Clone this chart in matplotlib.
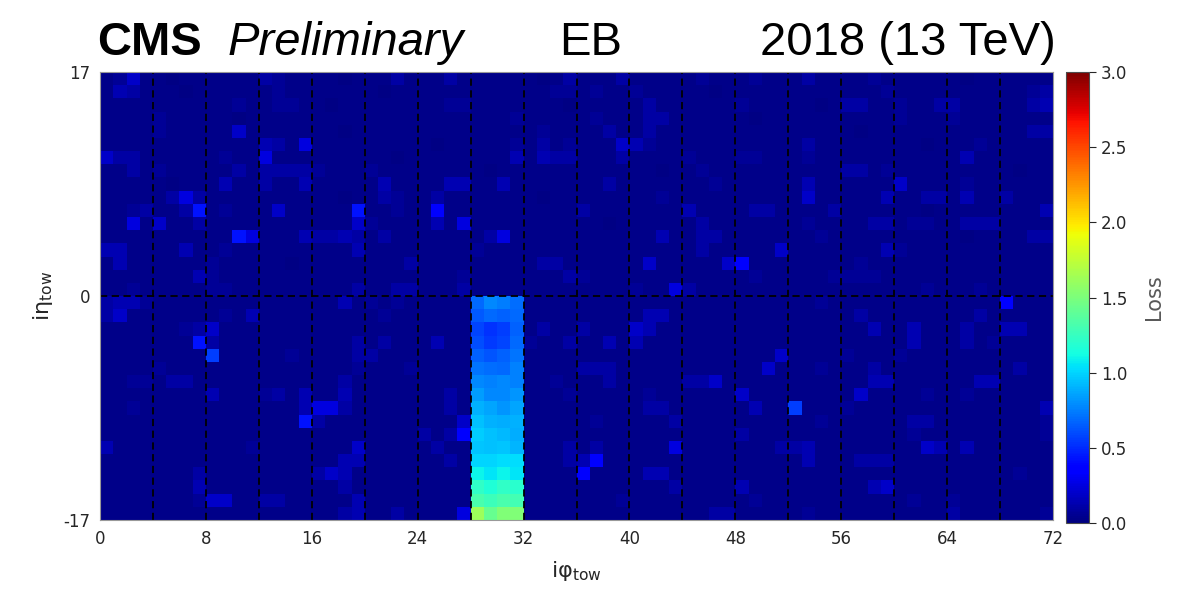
import numpy as np
import matplotlib.pyplot as plt

plt.rcParams["axes.unicode_minus"] = False

# ===============================
# Data
# ===============================
# loss level per trigger tower, one string per ieta row, top (ieta 16) to bottom (ieta -17),
# written in groups of 4 iphi towers; '#' marks the hot block filled from hot_loss below
loss_rows = [
    "1251 1011 1111 3211 1101 1131 1131 1111 1013 1113 1111 1211 1211 1311 1121 1111 1011 1111",
    "1431 1101 1111 1211 1111 1011 1111 1111 1122 1211 2111 1101 1111 1111 1112 1111 1111 1123",
    "1111 1111 1121 1221 1011 1111 1122 1111 1110 1111 1311 1111 2111 1101 3311 2113 3111 1134",
    "1111 2111 1101 1111 1111 1111 1111 1112 1111 1211 1331 1111 1011 1111 1111 2111 2111 1111",
    "1111 2111 1151 1111 1101 1111 1111 1111 1211 1131 1311 1111 1111 1111 1011 1111 1111 1133",
    "1111 1111 1111 4316 1111 1111 1011 1112 1312 1115 4211 1111 1111 1311 1111 1101 1121 1111",
    "5331 1111 1211 6111 1111 1101 1111 1114 1433 1113 1111 2111 2211 1211 1111 1111 1411 1111",
    "1131 2111 1131 3333 2111 2111 1111 1011 1111 1111 1101 1211 1111 1111 3312 1111 1111 1011",
    "1111 1011 1411 3114 1111 1411 1144 1141 1111 1131 1111 1121 1111 1411 1111 5111 1211 1111",
    "1111 1363 1111 1111 1101 1321 1311 1111 1011 1111 1121 1111 1111 1511 1114 1133 1411 3111",
    "1123 1138 1211 1511 1118 1121 1711 1111 1111 3111 1111 4111 1331 1113 1111 1101 1111 1114",
    "1161 5113 1111 1111 1115 2111 1416 1111 1111 1101 1111 1311 1111 1211 1133 1221 1333 1111",
    "1111 1111 1186 1114 3343 1311 1111 1361 1111 1111 1141 1331 1111 1121 1111 1111 1011 1133",
    "4411 1141 1211 1111 1114 1111 1111 2111 1111 1111 1111 1311 1115 1111 1114 2111 1111 1111",
    "1411 1111 2111 1101 1111 1113 1111 1111 1331 1111 1511 1115 7111 1111 1211 1111 1111 1111",
    "1111 1114 2111 1111 1111 1111 1112 1111 1113 2111 1111 1111 1211 1112 2221 1111 1111 1111",
    "1121 1111 2211 1111 1113 1133 1113 1111 1111 1111 2116 3111 1111 1111 1111 1121 1121 1111",
    "3442 1111 1111 1111 1141 2121 1111 #### 1111 1111 1111 1111 1111 1121 1111 1111 1111 7111",
    "3511 1111 1214 1111 1111 1211 1111 #### 1111 1111 1441 1111 1111 1111 1311 1111 1131 1111",
    "1111 1123 5111 1111 1111 1111 1111 #### 1311 3111 5411 1111 1111 1111 1141 1411 1311 4411",
    "1111 1118 3111 1111 1113 1311 1411 #### 2113 1141 4111 1111 1111 1111 1111 1411 1312 1111",
    "1111 1111 9111 1121 1113 3111 1111 #### 1111 1111 1111 1111 1115 1111 2111 2111 1111 1111",
    "1111 2111 1111 1111 1112 1112 1111 #### 1111 3331 1111 1111 1151 1121 1131 1111 1111 1311",
    "1122 1331 1111 1111 1131 1111 1111 #### 1121 1131 1111 3351 1111 1111 1144 1111 1144 1111",
    "1111 1111 4111 2314 1141 1111 1131 #### 1112 1111 1211 1111 5111 1111 1511 1121 1211 1111",
    "1121 1111 1111 1114 6631 1111 1131 #### 1111 1111 1331 1111 1411 9111 2111 1111 1111 1114",
    "1111 1111 1111 1118 3111 1111 1115 #### 1111 1211 1113 1111 1111 1121 1111 1331 1111 1112",
    "1111 1111 1111 1111 1111 1111 3137 #### 1111 1111 1111 1111 3111 1111 1111 1211 1111 1112",
    "4111 1111 1112 1111 1115 1111 1311 #### 1113 1311 1116 1111 1113 3411 1111 1154 1411 1111",
    "1111 1111 1111 1111 1144 1111 1131 #### 1113 4711 1111 1111 1111 1411 1333 1111 1111 1111",
    "1111 1113 1111 1111 3541 1111 1111 #### 1111 7111 1441 1111 1111 1111 1111 1111 1111 1211",
    "1111 1114 1111 1111 1131 1111 1111 #### 1111 1111 1113 1111 4111 1111 1145 1111 1111 1111",
    "1111 1112 5511 3311 1114 1111 1111 #### 1111 1112 1111 1111 1211 1111 1111 1211 2111 1111",
    "1111 1111 1111 1111 1134 1131 1116 #### 1111 1111 1111 1133 1111 1211 1111 1111 3111 1112",
]

# loss value for each level character
level_loss = {
    "0": 0.015, "1": 0.035, "2": 0.065, "3": 0.10, "4": 0.14,
    "5": 0.19, "6": 0.25, "7": 0.33, "8": 0.43, "9": 0.56,
}

# hot block: iphi 28-31, ieta -1 (top) down to -17
hot_iphi = [28, 29, 30, 31]
hot_loss = [
    [0.68, 0.78, 0.74, 0.70],
    [0.64, 0.68, 0.66, 0.68],
    [0.58, 0.52, 0.56, 0.66],
    [0.60, 0.55, 0.58, 0.68],
    [0.66, 0.63, 0.66, 0.72],
    [0.72, 0.70, 0.68, 0.76],
    [0.78, 0.75, 0.78, 0.76],
    [0.84, 0.78, 0.78, 0.82],
    [0.90, 0.86, 0.82, 0.86],
    [0.94, 0.90, 0.88, 0.90],
    [0.98, 0.94, 0.92, 0.88],
    [0.96, 0.94, 0.96, 0.91],
    [1.00, 1.00, 1.03, 1.03],
    [1.10, 1.05, 1.10, 1.05],
    [1.22, 1.17, 1.22, 1.20],
    [1.32, 1.27, 1.32, 1.30],
    [1.62, 1.42, 1.52, 1.52],
]

iphi_ticks = [0, 8, 16, 24, 32, 40, 48, 56, 64, 72]
ieta_ticks = [-17, 0, 17]
cbar_ticks = [0.0, 0.5, 1.0, 1.5, 2.0, 2.5, 3.0]


# ===============================
# Build the map
# ===============================
def build_map():
    grid = np.zeros((34, 72))
    for r, row in enumerate(loss_rows):
        chars = row.replace(" ", "")
        assert len(chars) == 72, (r, len(chars))
        for c, ch in enumerate(chars):
            grid[r, c] = level_loss.get(ch, 0.0)
    # hot block occupies rows ieta -1..-17 -> row index 17..33
    for k, vals in enumerate(hot_loss):
        for j, iphi in enumerate(hot_iphi):
            grid[17 + k, iphi] = vals[j]
    return np.flipud(grid)  # row 0 -> ieta -17


# ===============================
# Plot
# ===============================
fig = plt.figure(figsize=(11.81, 5.91), dpi=100)
ax = fig.add_axes([0.0847, 0.1201, 0.8069, 0.7580])
cax = fig.add_axes([0.9026, 0.1150, 0.0195, 0.7631])

loss = build_map()
x_edges = np.arange(0, 73)
y_edges = np.arange(-17, 18)
mesh = ax.pcolormesh(x_edges, y_edges, loss, cmap="jet", vmin=0, vmax=3)

dash = (0, (4, 2.5))
for x in range(4, 72, 4):
    ax.axvline(x, color="k", ls=dash, lw=1.3)
ax.axhline(0, color="k", ls=dash, lw=1.3)

ax.set_xlim(0, 72)
ax.set_ylim(-17, 17)
ax.set_xticks(iphi_ticks)
ax.set_yticks(ieta_ticks)
ax.tick_params(length=0, pad=7, labelsize=12, colors="0.15")
for sp in ax.spines.values():
    sp.set_color("0.6")
    sp.set_linewidth(0.8)

ax.set_xlabel("iφ$_{\\mathrm{tow}}$", fontsize=16, color="0.15", labelpad=8)
ax.set_ylabel("iη$_{\\mathrm{tow}}$", fontsize=16, color="0.15", labelpad=6)

cb = fig.colorbar(mesh, cax=cax, ticks=cbar_ticks)
cb.ax.tick_params(labelsize=12, colors="0.15", length=5)
cb.outline.set_edgecolor("0.3")
cb.set_label("Loss", fontsize=15, color="0.35", labelpad=12)

# CMS header
hdr = dict(family="Liberation Sans", fontsize=34, va="baseline")
fig.text(0.082, 0.907, "CMS", fontweight="bold", **hdr)
fig.text(0.193, 0.907, "Preliminary", style="italic", **hdr)
fig.text(0.5, 0.907, "EB", ha="center", **hdr)
fig.text(0.894, 0.907, "2018 (13 TeV)", ha="right", **hdr)

fig.savefig("out.png", dpi=100)
